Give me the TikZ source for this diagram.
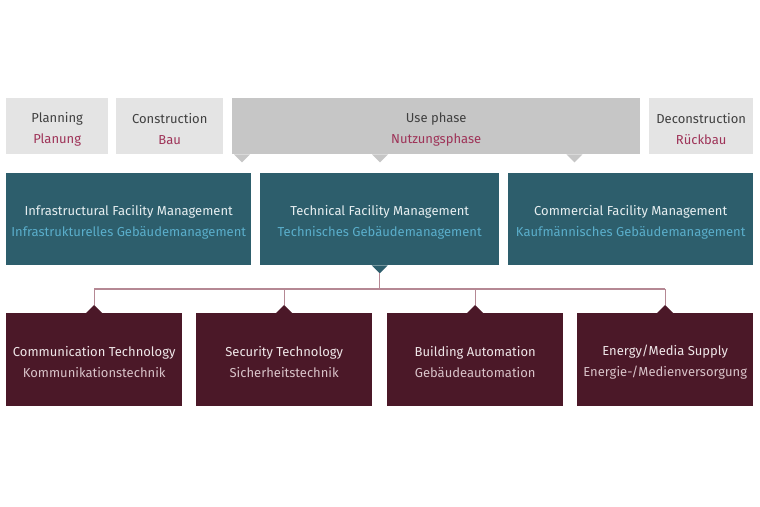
\documentclass[tikz,border=0pt]{standalone}
\usepackage{fontspec}
\setmainfont{Fira Sans}
\definecolor{topgray}{HTML}{E4E4E4}
\definecolor{usegray}{HTML}{C6C6C6}
\definecolor{darktext}{HTML}{404040}
\definecolor{redtext}{HTML}{9E3358}
\definecolor{teal}{HTML}{2D5E6C}
\definecolor{teallight}{HTML}{5AAECB}
\definecolor{tealtitle}{HTML}{E6EEF0}
\definecolor{maroon}{HTML}{4B1828}
\definecolor{maroontitle}{HTML}{EFE6E8}
\definecolor{maroonsub}{HTML}{D8C2C8}
\definecolor{conncol}{HTML}{B58894}
\tikzset{
  box/.style={rectangle, inner sep=0pt, anchor=north west, align=center,
    font=\fontsize{13}{21}\selectfont},
  phasebox/.style={box, fill=topgray, text=darktext},
  usebox/.style={box, fill=usegray, text=darktext},
  fmbox/.style={box, fill=teal, text=tealtitle},
  techbox/.style={box, fill=maroon, text=maroontitle},
  conn/.style={draw=conncol, line width=1.2pt}
}
\newcommand{\lift}{\rule{0pt}{15.5pt}}
\newcommand{\redsub}[1]{\textcolor{redtext}{#1}}
\newcommand{\bluesub}[1]{\textcolor{teallight}{#1}}
\newcommand{\pinksub}[1]{\textcolor{maroonsub}{#1}}
\begin{document}
\begin{tikzpicture}[x=1pt,y=-1pt]
\useasboundingbox[fill=white] (0,0) rectangle (760,506);
% top row
\node[phasebox, minimum width=102pt, minimum height=56pt] (plan) at (6,98) {\lift Planning\\\redsub{Planung}};
\node[phasebox, minimum width=107pt, minimum height=56pt] (constr) at (116,98) {\lift Construction\\\redsub{Bau}};
\node[usebox, minimum width=408pt, minimum height=56pt] (use) at (232,98) {\lift Use phase\\\redsub{Nutzungsphase}};
\node[phasebox, minimum width=104pt, minimum height=56pt] (decon) at (649,98) {\lift Deconstruction\\\redsub{Rückbau}};
% use phase pointers
\fill[usegray] ([xshift=2pt]use.south west) -- ([xshift=18pt]use.south west) -- ([xshift=10pt,yshift=-8pt]use.south west) -- cycle;
\fill[usegray] ([xshift=140pt]use.south west) -- ([xshift=156pt]use.south west) -- ([xshift=148pt,yshift=-8pt]use.south west) -- cycle;
\fill[usegray] ([xshift=-74pt]use.south east) -- ([xshift=-58pt]use.south east) -- ([xshift=-66pt,yshift=-8pt]use.south east) -- cycle;
% middle row
\node[fmbox, minimum width=245pt, minimum height=92pt] (infra) at (6,173) {\lift Infrastructural Facility Management\\\bluesub{Infrastrukturelles Gebäudemanagement}};
\node[fmbox, minimum width=239pt, minimum height=92pt] (tech) at (260,173) {\lift Technical Facility Management\\\bluesub{Technisches Gebäudemanagement}};
\node[fmbox, minimum width=245pt, minimum height=92pt] (comm) at (508,173) {\lift Commercial Facility Management\\\bluesub{Kaufmännisches Gebäudemanagement}};
\fill[teal] ([xshift=-8pt]tech.south) -- ([xshift=8pt]tech.south) -- ([yshift=-8pt]tech.south) coordinate (ttip) -- cycle;
% bottom row
\node[techbox, minimum width=176pt, minimum height=93pt] (ct) at (6,313) {\lift Communication Technology\\\pinksub{Kommunikationstechnik}};
\node[techbox, minimum width=176pt, minimum height=93pt] (st) at (196,313) {\lift Security Technology\\\pinksub{Sicherheitstechnik}};
\node[techbox, minimum width=176pt, minimum height=93pt] (ba) at (387,313) {\lift Building Automation\\\pinksub{Gebäudeautomation}};
\node[techbox, minimum width=176pt, minimum height=93pt] (es) at (577,313) {\lift Energy/Media Supply\\\pinksub{Energie-/Medienversorgung}};
\foreach \n in {ct,st,ba,es}{
  \fill[maroon] ([xshift=-8pt]\n.north) -- ([xshift=8pt]\n.north) -- ([yshift=8pt]\n.north) coordinate (\n tip) -- cycle;
}
% connectors
\coordinate (bus) at (0,289);
\draw[conn] (ttip) -- (ttip |- bus);
\draw[conn] (cttip |- bus) -- (estip |- bus);
\foreach \n in {ct,st,ba,es}{
  \draw[conn] (\n tip |- bus) -- (\n tip);
}
\end{tikzpicture}
\end{document}
